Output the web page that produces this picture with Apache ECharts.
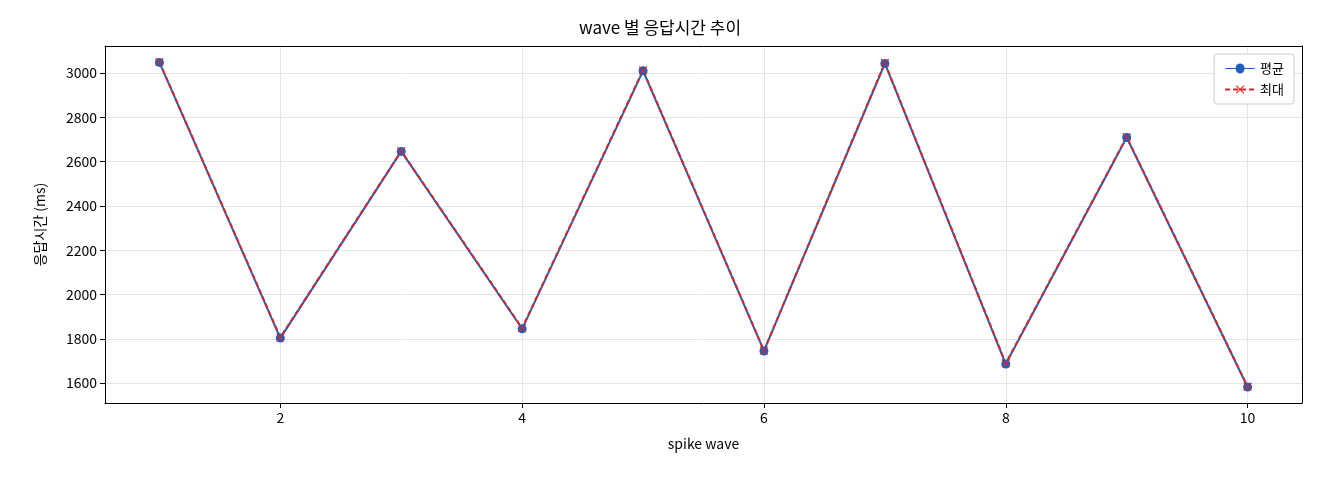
<!DOCTYPE html>
<html><head><meta charset="utf-8">
<script src="https://cdn.jsdelivr.net/npm/echarts@6/dist/echarts.min.js"></script>
<style>html,body{margin:0;padding:0;background:#fff}#c{width:1320px;height:480px}</style>
</head><body><div id="c"></div>
<script>
const waves = [1,2,3,4,5,6,7,8,9,10];
const avgValues = [3048,1803,2646,1845,3010,1745,3043,1686,2709,1582];
const maxValues = [3050,1806,2648,1848,3013,1747,3046,1689,2711,1584];
const xTicks = [2,4,6,8,10];
const yTicks = [1600,1800,2000,2200,2400,2600,2800,3000];
const font = "'Noto Sans CJK KR', 'DejaVu Sans', sans-serif";
const chart = echarts.init(document.getElementById('c'));
const frame = {show:true,onZero:false,lineStyle:{color:'#000'}};
chart.setOption({
  animation:false,
  title:{text:'wave 별 응답시간 추이',left:'center',top:14,textStyle:{fontFamily:font,fontSize:17,fontWeight:'normal',color:'#000'}},
  legend:{right:26,top:54,orient:'vertical',itemGap:8,backgroundColor:'#fff',borderColor:'#ccc',borderWidth:1,borderRadius:3,padding:[8,10],
    textStyle:{fontFamily:font,fontSize:13,color:'#000'},itemWidth:30,itemHeight:10,
    data:[{name:'평균',icon:'path://M0,4.4H10.5A4.5,4.5,0,0,1,19.5,4.4H30V5.6H19.5A4.5,4.5,0,0,1,10.5,5.6H0Z'},{name:'최대'}]},
  grid:{left:105,right:18,top:46,bottom:77},
  xAxis:[{type:'value',min:0.55,max:10.45,
    name:'spike wave',nameLocation:'middle',nameGap:34,nameTextStyle:{fontFamily:font,fontSize:14,color:'#000'},
    axisLine:frame,
    axisLabel:{fontFamily:font,fontSize:14,color:'#000',customValues:xTicks},
    axisTick:{show:true,customValues:xTicks,lineStyle:{color:'#000'}},
    splitLine:{show:true,lineStyle:{color:'#e5e5e5'}}},
    {type:'value',position:'top',min:0.55,max:10.45,axisLine:frame,axisTick:{show:false},axisLabel:{show:false},splitLine:{show:false}}],
  yAxis:[{type:'value',min:1510,max:3122,
    name:'응답시간 (ms)',nameLocation:'middle',nameGap:58,nameTextStyle:{fontFamily:font,fontSize:14,color:'#000'},
    axisLine:frame,
    axisLabel:{fontFamily:font,fontSize:14,color:'#000',customValues:yTicks,formatter:v=>String(v)},
    axisTick:{show:true,customValues:yTicks,lineStyle:{color:'#000'}},
    splitLine:{show:true,lineStyle:{color:'#e5e5e5'}}},
    {type:'value',position:'right',min:1510,max:3122,axisLine:frame,axisTick:{show:false},axisLabel:{show:false},splitLine:{show:false}}],
  series:[
    {name:'평균',type:'line',data:waves.map((w,i)=>[w,avgValues[i]]),symbol:'circle',symbolSize:9,
     lineStyle:{color:'#1f5fbf',width:2},itemStyle:{color:'#1f5fbf'}},
    {name:'최대',type:'line',data:waves.map((w,i)=>[w,maxValues[i]]),
     symbol:'path://M0,0L1,0L5,4L9,0L10,0L10,1L6,5L10,9L10,10L9,10L5,6L1,10L0,10L0,9L4,5L0,1Z',symbolSize:8,
     lineStyle:{color:'#d62728',width:2,type:[5,3]},itemStyle:{color:'#d62728'}}
  ]
});
</script></body></html>
